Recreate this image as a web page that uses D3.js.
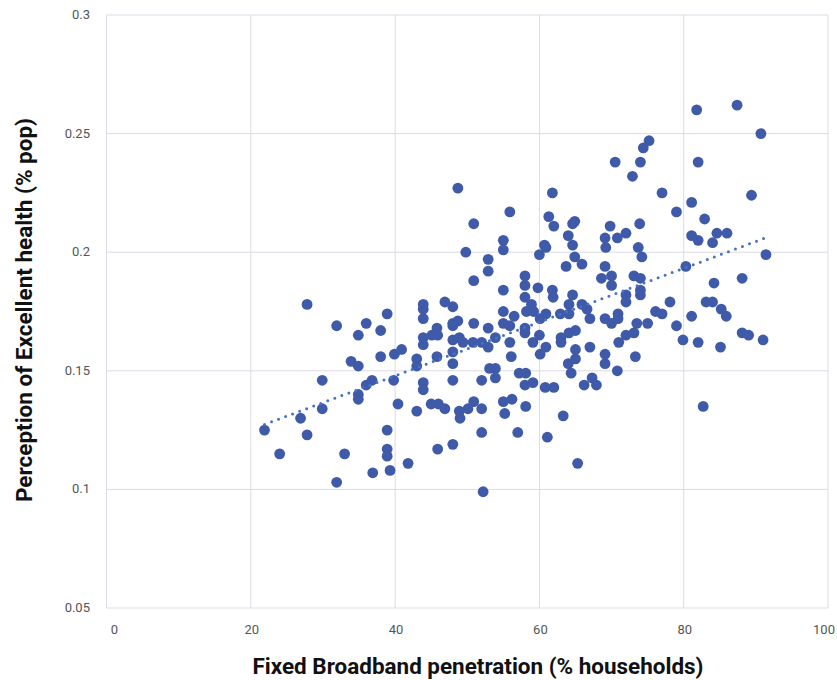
<!DOCTYPE html>
<html>
<head>
<meta charset="utf-8">
<script src="https://cdn.jsdelivr.net/npm/d3@7"></script>
<style>
  body { margin: 0; background: #fff; }
  .tick-label { font-family: Roboto, "Liberation Sans", sans-serif; font-size: 13px; fill: #555; }
  .axis-title { font-family: Roboto, "Liberation Sans", sans-serif; font-weight: bold; fill: #111; }
</style>
</head>
<body>
<div id="viz_container"></div>
<script>
// Fixed broadband penetration (% households), one per region
const broadband = [
  21.9, 24.0, 26.9, 27.8, 27.8, 29.9, 29.9, 31.9, 31.9, 33.0,
  33.9, 34.9, 34.9, 34.9, 34.9, 36.0, 36.0, 36.8, 36.9, 38.0,
  38.0, 38.9, 38.9, 38.9, 38.9, 39.3, 39.8, 39.9, 40.4, 40.9,
  41.8, 43.0, 43.0, 43.0, 43.9, 43.9, 43.9, 43.9, 43.9, 43.9,
  43.9, 45.1, 45.0, 45.8, 45.8, 45.9, 45.9, 46.9, 48.0, 48.0,
  48.7, 48.0, 48.0, 48.9, 49.4, 48.0, 48.0, 49.8, 50.9, 50.9,
  50.8, 52.0, 52.9, 52.9, 52.9, 52.9, 53.9, 55.0, 55.0, 55.0,
  55.0, 55.0, 55.9, 56.5, 55.9, 56.1, 58.0, 58.0, 58.0, 58.2,
  58.9, 59.2, 58.0, 58.0, 59.1, 59.8, 60.0, 60.7, 60.9, 60.0,
  60.1, 60.9, 60.9, 60.1, 61.8, 61.9, 62.9, 63.0, 63.0, 64.0,
  64.6, 64.9, 65.9, 63.7, 64.6, 64.1, 64.1, 65.9, 66.6, 67.0,
  64.1, 65.0, 65.0, 65.0, 67.0, 64.0, 69.1, 69.2, 70.8, 69.1,
  70.0, 68.6, 70.0, 69.1, 70.0, 70.9, 70.9, 71.0, 69.1, 69.1,
  53.1, 53.9, 57.2, 58.1, 64.4, 70.8, 58.0, 59.1, 53.9, 52.0,
  48.0, 60.8, 62.0, 66.2, 67.3, 67.9, 46.0, 46.9, 48.9, 49.0,
  50.1, 50.9, 52.0, 55.0, 56.2, 55.2, 58.1, 52.0, 48.0, 57.0,
  61.1, 63.3, 65.3, 52.2, 48.7, 50.9, 55.9, 61.8, 61.3, 62.0,
  64.6, 64.9, 69.8, 70.5, 81.8, 87.4, 90.7, 75.2, 74.4, 74.0,
  82.0, 72.9, 77.0, 81.1, 79.0, 89.4, 82.9, 73.9, 72.0, 81.1,
  82.0, 84.6, 86.0, 84.0, 73.7, 74.2, 91.4, 80.3, 88.1, 84.2,
  73.1, 74.0, 72.0, 72.0, 74.0, 74.0, 78.1, 83.1, 84.0, 85.2,
  85.9, 81.1, 76.1, 77.0, 73.5, 75.0, 79.0, 72.0, 73.1, 79.9,
  82.0, 85.1, 88.1, 89.0, 91.0, 73.3, 82.7
];

// Perception of excellent health (% pop), same order
const health = [
  0.125, 0.115, 0.130, 0.123, 0.178, 0.146, 0.134, 0.169, 0.103, 0.115,
  0.154, 0.152, 0.165, 0.140, 0.138, 0.170, 0.144, 0.146, 0.107, 0.167,
  0.156, 0.174, 0.125, 0.117, 0.114, 0.108, 0.146, 0.157, 0.136, 0.159,
  0.111, 0.155, 0.152, 0.133, 0.178, 0.176, 0.172, 0.164, 0.161, 0.145,
  0.142, 0.165, 0.136, 0.168, 0.156, 0.117, 0.165, 0.179, 0.177, 0.170,
  0.171, 0.169, 0.163, 0.164, 0.162, 0.158, 0.153, 0.200, 0.188, 0.170,
  0.162, 0.162, 0.160, 0.168, 0.197, 0.192, 0.164, 0.205, 0.201, 0.184,
  0.175, 0.170, 0.169, 0.173, 0.162, 0.156, 0.190, 0.186, 0.181, 0.175,
  0.178, 0.175, 0.168, 0.166, 0.162, 0.185, 0.199, 0.203, 0.202, 0.165,
  0.172, 0.174, 0.160, 0.157, 0.184, 0.181, 0.174, 0.164, 0.162, 0.207,
  0.203, 0.198, 0.195, 0.194, 0.182, 0.178, 0.174, 0.178, 0.176, 0.172,
  0.166, 0.167, 0.159, 0.155, 0.160, 0.153, 0.206, 0.202, 0.206, 0.194,
  0.190, 0.189, 0.186, 0.172, 0.170, 0.174, 0.172, 0.162, 0.157, 0.153,
  0.151, 0.151, 0.149, 0.149, 0.149, 0.150, 0.144, 0.145, 0.147, 0.146,
  0.146, 0.143, 0.143, 0.144, 0.147, 0.144, 0.136, 0.134, 0.133, 0.130,
  0.134, 0.137, 0.134, 0.137, 0.138, 0.132, 0.135, 0.124, 0.119, 0.124,
  0.122, 0.131, 0.111, 0.099, 0.227, 0.212, 0.217, 0.225, 0.215, 0.211,
  0.212, 0.213, 0.211, 0.238, 0.260, 0.262, 0.250, 0.247, 0.244, 0.238,
  0.238, 0.232, 0.225, 0.221, 0.217, 0.224, 0.214, 0.212, 0.208, 0.207,
  0.205, 0.208, 0.208, 0.204, 0.202, 0.198, 0.199, 0.194, 0.189, 0.187,
  0.190, 0.189, 0.182, 0.179, 0.184, 0.182, 0.179, 0.179, 0.179, 0.176,
  0.173, 0.173, 0.175, 0.174, 0.170, 0.170, 0.169, 0.165, 0.166, 0.163,
  0.162, 0.160, 0.166, 0.165, 0.163, 0.156, 0.135
];

const xTicks = [0, 20, 40, 60, 80, 100];
const yTicks = [0.05, 0.1, 0.15, 0.2, 0.25, 0.3];

const points = broadband.map((b, i) => ({ x: b, y: health[i] }));

// Page size
const width = 837;
const height = 680;

const svg = d3.select("#viz_container")
  .append("svg")
    .attr("width", width)
    .attr("height", height);

// Plot area
const margin = { top: 15, right: 9, bottom: 72, left: 106.5 };

const xScale = d3.scaleLinear()
  .domain([0, 100])
  .range([margin.left, width - margin.right]);

const yScale = d3.scaleLinear()
  .domain([0.05, 0.3])
  .range([height - margin.bottom, margin.top]);

// Gridlines
svg.append("g")
  .selectAll("line")
  .data(xTicks)
  .join("line")
    .attr("x1", d => xScale(d))
    .attr("x2", d => xScale(d))
    .attr("y1", yScale(0.3))
    .attr("y2", yScale(0.05))
    .attr("stroke", "#dcdbe6")
    .attr("stroke-width", 1);

svg.append("g")
  .selectAll("line")
  .data(yTicks)
  .join("line")
    .attr("x1", xScale(0))
    .attr("x2", xScale(100))
    .attr("y1", d => yScale(d))
    .attr("y2", d => yScale(d))
    .attr("stroke", "#dcdbe6")
    .attr("stroke-width", 1);

// X tick labels (end labels nudged inside the page like the original)
const xNudge = d => d === 0 ? 8 : d === 100 ? -4 : 1;
svg.append("g")
  .selectAll("text")
  .data(xTicks)
  .join("text")
    .attr("class", "tick-label")
    .attr("x", d => xScale(d) + xNudge(d))
    .attr("y", yScale(0.05) + 26)
    .attr("text-anchor", "middle")
    .text(d => d);

// Y tick labels
svg.append("g")
  .selectAll("text")
  .data(yTicks)
  .join("text")
    .attr("class", "tick-label")
    .attr("x", 90)
    .attr("y", d => yScale(d) + 4)
    .attr("text-anchor", "end")
    .text(d => d);

// Axis titles
svg.append("text")
  .attr("class", "axis-title")
  .attr("x", 478)
  .attr("y", 674)
  .attr("text-anchor", "middle")
  .attr("font-size", 22)
  .attr("textLength", 451)
  .attr("lengthAdjust", "spacingAndGlyphs")
  .text("Fixed Broadband penetration (% households)");

svg.append("text")
  .attr("class", "axis-title")
  .attr("transform", "translate(32, 310) rotate(-90)")
  .attr("text-anchor", "middle")
  .attr("font-size", 22)
  .attr("textLength", 384)
  .attr("lengthAdjust", "spacingAndGlyphs")
  .text("Perception of Excellent health (% pop)");

// Points
svg.append("g")
  .selectAll("circle")
  .data(points)
  .join("circle")
    .attr("cx", d => xScale(d.x))
    .attr("cy", d => yScale(d.y))
    .attr("r", 5.4)
    .attr("fill", "#3f5aa8");

// Linear trendline (least squares)
const meanX = d3.mean(points, d => d.x);
const meanY = d3.mean(points, d => d.y);
const slope = d3.sum(points, d => (d.x - meanX) * (d.y - meanY)) /
              d3.sum(points, d => (d.x - meanX) ** 2);
const intercept = meanY - slope * meanX;
const [minX, maxX] = d3.extent(points, d => d.x);

svg.append("line")
  .attr("x1", xScale(minX))
  .attr("y1", yScale(intercept + slope * minX))
  .attr("x2", xScale(maxX))
  .attr("y2", yScale(intercept + slope * maxX))
  .attr("stroke", "#4472c4")
  .attr("stroke-width", 3)
  .attr("stroke-linecap", "round")
  .attr("stroke-dasharray", "0,7.5");
</script>
</body>
</html>
